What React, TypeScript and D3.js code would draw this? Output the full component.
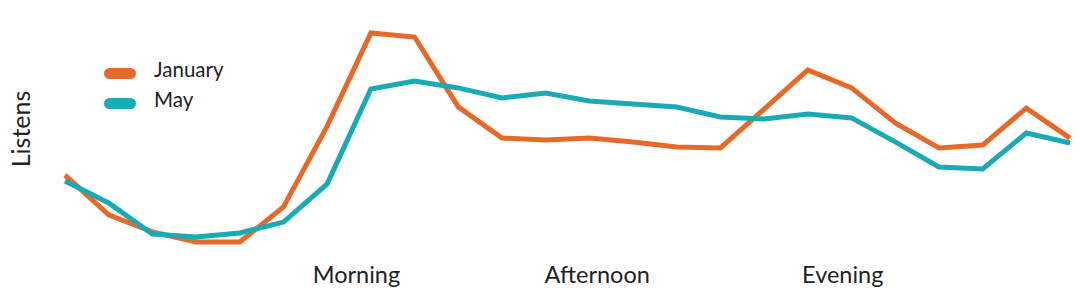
import React from "react";
import * as d3 from "d3";

const hours = d3.range(0, 24);
const january = [35.4, 18.8, 11.7, 7.5, 7.5, 22.1, 55.8, 94.6, 92.9, 63.8, 50.8, 50, 50.8, 49.2, 47.1, 46.7, 62.9, 79.2, 71.7, 57.1, 46.7, 47.9, 63.3, 50.8];
const may = [32.9, 23.75, 10.8, 9.6, 11.25, 15.8, 31.7, 71.25, 74.6, 71.7, 67.5, 69.6, 66.25, 65, 63.75, 59.6, 58.75, 60.8, 59.2, 49.2, 38.75, 37.9, 52.9, 48.75];
const seriesNames = ["January", "May"];
const tickLabels = ["Morning", "Afternoon", "Evening"];
const tickHours = [6.67, 12.18, 17.8];

const W = 1080;
const H = 296;
const colors = ["#E7692A", "#19AAB6"];
const FONT = "Lato, 'Open Sans', sans-serif";

export default function App() {
  const x = d3.scaleLinear().domain([0, 23]).range([65, 1070]);
  const y = d3.scaleLinear().domain([0, 100]).range([260, 20]);
  const line = d3
    .line<number>()
    .x((_, i) => x(hours[i]))
    .y((d) => y(d));
  const series = [january, may];
  return (
    <svg
      width={W}
      height={H}
      style={{ position: "absolute", left: 0, top: 0, background: "#fff" }}
    >
      {series.map((s, k) => (
        <path
          key={k}
          d={line(s) || ""}
          fill="none"
          stroke={colors[k]}
          strokeWidth={5}
          strokeLinejoin="miter"
        />
      ))}
      {tickLabels.map((t, i) => (
        <text
          key={t}
          x={x(tickHours[i])}
          y={283}
          textAnchor="middle"
          fontFamily={FONT}
          fontSize={23.5}
          fill="#222"
        >
          {t}
        </text>
      ))}
      <text
        transform="translate(30,129) rotate(-90)"
        textAnchor="middle"
        fontFamily={FONT}
        fontSize={25}
        fill="#222"
      >
        Listens
      </text>
      {seriesNames.map((n, i) => (
        <g key={n} transform={`translate(0,${73.5 + i * 30})`}>
          <rect x={104} y={-5.5} width={32} height={11} rx={5.5} fill={colors[i]} />
          <text x={154} y={3.5} fontFamily={FONT} fontSize={20.5} fill="#222">
            {n}
          </text>
        </g>
      ))}
    </svg>
  );
}
